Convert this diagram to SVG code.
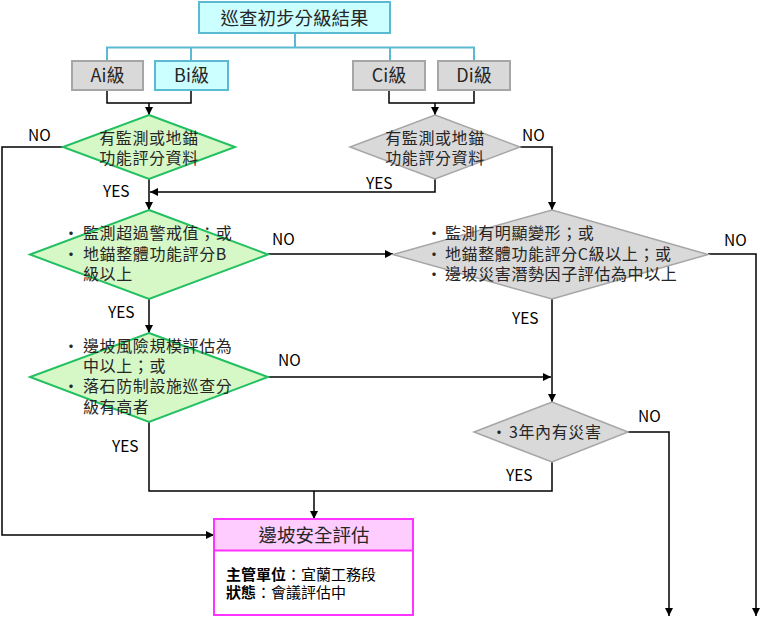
<svg xmlns="http://www.w3.org/2000/svg" width="771" height="626" viewBox="0 0 771 626">
<style>
text{font-family:"Noto Sans CJK TC","Noto Sans CJK SC",sans-serif;fill:#262626}
.t{font-size:16px;letter-spacing:0.6px}
.lbl{font-size:15.5px;fill:#000}
.cy{fill:#CCFFFF;stroke:#5BBAD2;stroke-width:2}
.gr{fill:#D9D9D9;stroke:#A6A6A6;stroke-width:2}
.gd{fill:#D9D9D9;stroke:#A6A6A6;stroke-width:1.5}
.gn{fill:#D6F7C6;stroke:#22C060;stroke-width:2}
.ln{fill:none;stroke:#000;stroke-width:1.5}
.cl{fill:none;stroke:#5BBAD2;stroke-width:2}
</style>
<defs>
<marker id="a" viewBox="0 0 10 10" refX="10" refY="5" markerWidth="8" markerHeight="8" markerUnits="userSpaceOnUse" orient="auto"><path d="M0,0L10,5L0,10z" fill="#000"/></marker>
</defs>
<g id="connectors">
<polyline class="cl" points="295,33 295,47.5"/>
<polyline class="cl" points="107,61 107,47.5 474,47.5 474,61"/>
<polyline class="cl" points="191,47.5 191,61"/>
<polyline class="cl" points="390,47.5 390,61"/>
<polyline class="ln" points="107,90 107,103 191,103 191,90"/>
<line class="ln" x1="149" y1="103" x2="149" y2="115" marker-end="url(#a)"/>
<polyline class="ln" points="389,90 389,103 474,103 474,90"/>
<line class="ln" x1="435" y1="103" x2="435" y2="115" marker-end="url(#a)"/>
<polyline class="ln" points="63,147 2,147 2,535 214,535" marker-end="url(#a)"/>
<polyline class="ln" points="520,147 552,147 552,210" marker-end="url(#a)"/>
<polyline class="ln" points="435,179 435,192 150,192" marker-end="url(#a)"/>
<line class="ln" x1="149" y1="179" x2="149" y2="210" marker-end="url(#a)"/>
<line class="ln" x1="268" y1="254" x2="393" y2="254" marker-end="url(#a)"/>
<polyline class="ln" points="708,254 756,254 756,616" marker-end="url(#a)"/>
<line class="ln" x1="149" y1="299" x2="149" y2="333" marker-end="url(#a)"/>
<line class="ln" x1="268" y1="377" x2="551" y2="377" marker-end="url(#a)"/>
<line class="ln" x1="552" y1="299" x2="552" y2="402" marker-end="url(#a)"/>
<polyline class="ln" points="628,432 669,432 669,616" marker-end="url(#a)"/>
<polyline class="ln" points="149,422 149,491 552,491 552,462"/>
<line class="ln" x1="314" y1="491" x2="314" y2="519" marker-end="url(#a)"/>
<text class="lbl" x="28" y="141">NO</text>
<text class="lbl" x="522" y="141">NO</text>
<text class="lbl" x="366" y="189">YES</text>
<text class="lbl" x="103" y="197">YES</text>
<text class="lbl" x="272" y="245">NO</text>
<text class="lbl" x="724" y="246">NO</text>
<text class="lbl" x="108" y="318">YES</text>
<text class="lbl" x="512" y="324">YES</text>
<text class="lbl" x="278" y="366">NO</text>
<text class="lbl" x="638" y="422">NO</text>
<text class="lbl" x="112" y="452">YES</text>
<text class="lbl" x="506" y="481">YES</text>
</g>
<g id="top">
<rect class="cy" x="199" y="2" width="191" height="31"/>
<text x="294.5" y="24.5" text-anchor="middle" style="font-size:18.5px">巡查初步分級結果</text>
</g>
<g id="ai"><rect class="gr" x="72" y="61" width="71" height="29"/><text x="107.5" y="82" text-anchor="middle" style="font-size:18px">Ai級</text></g>
<g id="bi"><rect class="cy" x="155" y="61" width="73" height="29"/><text x="191.5" y="82" text-anchor="middle" style="font-size:18px">Bi級</text></g>
<g id="ci"><rect class="gr" x="353" y="61" width="72" height="29"/><text x="389" y="82" text-anchor="middle" style="font-size:18px">Ci級</text></g>
<g id="di"><rect class="gr" x="438" y="61" width="72" height="29"/><text x="474" y="82" text-anchor="middle" style="font-size:18px">Di級</text></g>
<g id="d1">
<polygon class="gn" points="149,115 235,147 149,179 63,147"/>
<text class="t" x="149" y="144" text-anchor="middle">有監測或地錨</text>
<text class="t" x="149" y="164" text-anchor="middle">功能評分資料</text>
</g>
<g id="d1b">
<polygon class="gd" points="435,115 520,147 435,179 350,147"/>
<text class="t" x="435" y="144" text-anchor="middle">有監測或地錨</text>
<text class="t" x="435" y="164" text-anchor="middle">功能評分資料</text>
</g>
<g id="d2">
<polygon class="gn" points="149,210 268,254.5 149,299 30,254.5"/>
<text class="t" x="63" y="239">•</text>
<text class="t" x="83" y="239">監測超過警戒值；或</text>
<text class="t" x="63" y="260">•</text>
<text class="t" x="83" y="260">地錨整體功能評分B</text>
<text class="t" x="83" y="280">級以上</text>
</g>
<g id="d2b">
<polygon class="gd" points="552,210 708,254.5 552,299 393,254.5"/>
<text class="t" x="426" y="239">•</text>
<text class="t" x="445" y="239">監測有明顯變形；或</text>
<text class="t" x="426" y="260">•</text>
<text class="t" x="445" y="260">地錨整體功能評分C級以上；或</text>
<text class="t" x="426" y="280">•</text>
<text class="t" x="445" y="280">邊坡災害潛勢因子評估為中以上</text>
</g>
<g id="d3">
<polygon class="gn" points="149,333 268,377 149,422 30,377"/>
<text class="t" x="63" y="352">•</text>
<text class="t" x="83" y="352">邊坡風險規模評估為</text>
<text class="t" x="83" y="372">中以上；或</text>
<text class="t" x="63" y="392">•</text>
<text class="t" x="83" y="392">落石防制設施巡查分</text>
<text class="t" x="83" y="413">級有高者</text>
</g>
<g id="d3b">
<polygon class="gd" points="552,402 628,432 552,462 474,432"/>
<text class="t" x="491" y="438">•</text>
<text class="t" x="509" y="438">3年內有災害</text>
</g>
<g id="result">
<rect x="214" y="519" width="199" height="96" fill="#fff" stroke="#FF33FF" stroke-width="2"/>
<rect x="214" y="519" width="199" height="31.5" fill="#FFCCFF" stroke="#FF33FF" stroke-width="2"/>
<text x="314" y="542" text-anchor="middle" style="font-size:18.5px">邊坡安全評估</text>
<text x="226" y="580" style="font-size:15px;fill:#000"><tspan font-weight="bold">主管單位</tspan>：宜蘭工務段</text>
<text x="226" y="598" style="font-size:15px;fill:#000"><tspan font-weight="bold">狀態</tspan>：會議評估中</text>
</g>
</svg>
